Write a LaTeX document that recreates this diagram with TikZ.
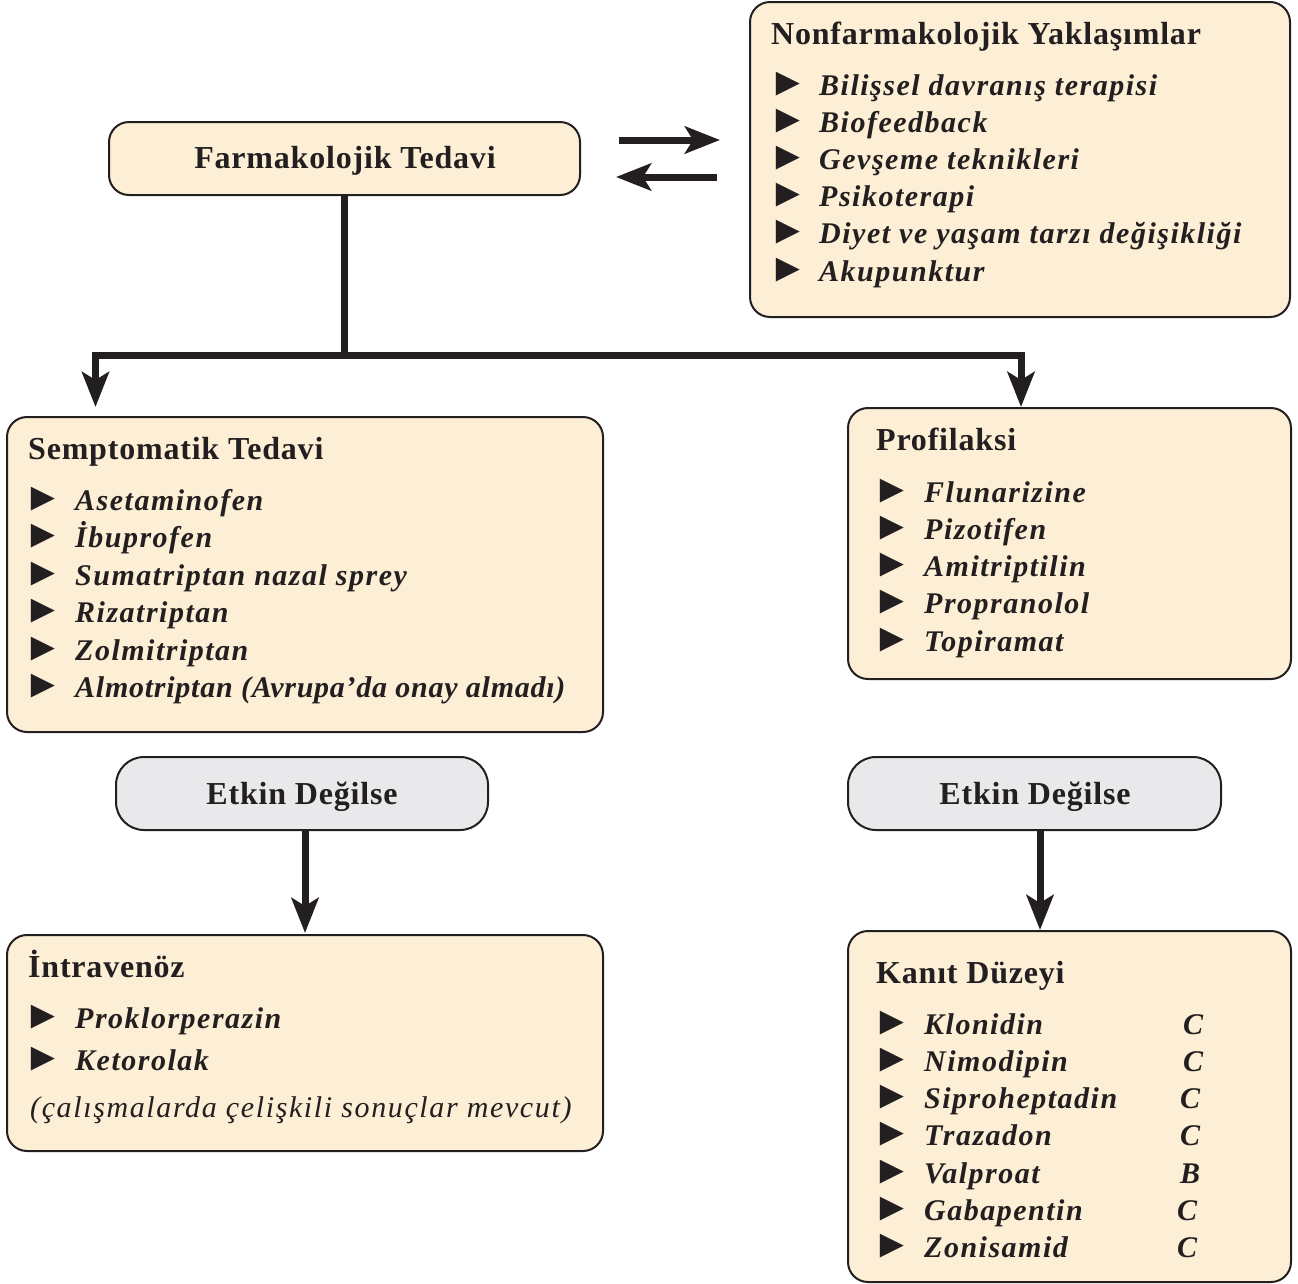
\documentclass[tikz,border=0pt]{standalone}
\usepackage{fontspec}
\setmainfont{Liberation Serif}
\newfontfamily\headfont{Liberation Serif}[LetterSpace=2.5]
\newfontfamily\listfont{Liberation Serif}[LetterSpace=5]
\newfontfamily\tightfont{Liberation Serif}[LetterSpace=2.5]
\newfontfamily\notefont{Liberation Serif}[LetterSpace=5.4]
\usetikzlibrary{arrows.meta}

\definecolor{ink}{HTML}{231F20}
\definecolor{cream}{HTML}{FDEFD6}
\definecolor{pale}{HTML}{E9E9EB}

\tikzset{
  panel/.style={draw=ink, line width=2pt, fill=cream, rounded corners=20pt, inner sep=0pt},
  gate/.style={draw=ink, line width=2pt, fill=pale, rounded corners=28pt, inner sep=0pt},
  headtext/.style={inner sep=0pt, text=ink, font=\headfont\bfseries\fontsize{32}{36}\selectfont},
  head/.style={headtext, anchor=base west},
  item/.style={anchor=base west, inner sep=0pt, text=ink, font=\listfont\bfseries\itshape\fontsize{30}{36}\selectfont},
  tightitem/.style={item, font=\tightfont\bfseries\itshape\fontsize{30}{36}\selectfont},
  note/.style={anchor=base west, inner sep=0pt, text=ink, font=\notefont\itshape\fontsize{30}{36}\selectfont},
  bul/.style={anchor=base west, inner sep=0pt, text=ink, font=\fontsize{40}{44}\selectfont},
  trunk/.style={draw=ink, line width=7pt},
  flow/.style={draw=ink, line width=7pt, -{Stealth[length=35pt,width=27pt,inset=8pt]}},
}

\begin{document}
\begin{tikzpicture}[x=1pt, y=-1pt]
\useasboundingbox (0,0) rectangle (1298,1283);

% ---------- boxes ----------
\node[panel, minimum width=471pt, minimum height=73pt] (farm) at (344.5,158.5) {};
\node[headtext] (farmtext) at (345,161) {Farmakolojik Tedavi};

\node[panel, minimum width=540pt, minimum height=315pt] (nonfarm) at (1020,159.5) {};
\node[panel, minimum width=596pt, minimum height=315pt] (semp) at (305,574.5) {};
\node[panel, minimum width=443pt, minimum height=271pt] (prof) at (1069.5,543.5) {};

\node[gate, minimum width=372pt, minimum height=73pt] (gl) at (302,793.5) {};
\node[headtext] (gltext) at (302,797) {Etkin Değilse};
\node[gate, minimum width=373pt, minimum height=73pt] (gr) at (1034.5,793.5) {};
\node[headtext] (grtext) at (1035,797) {Etkin Değilse};

\node[panel, minimum width=596pt, minimum height=216pt] (iv) at (305,1043) {};
\node[panel, minimum width=443pt, minimum height=351pt] (kanit) at (1069.5,1106.5) {};

% ---------- non-pharmacological list ----------
\node[head] (nonfarm-h) at (771,44) {Nonfarmakolojik Yaklaşımlar};
\foreach \t [count=\i] in {Bilişsel davranış terapisi, Biofeedback, Gevşeme teknikleri,
    Psikoterapi, Diyet ve yaşam tarzı değişikliği, Akupunktur}{
  \node[bul] (nonfarm-b\i) at (768,95+37.2*\i-37.2) {►};
  \node[item] (nonfarm-\i) at (819,95+37.2*\i-37.2) {\t};
}

% ---------- symptomatic treatment ----------
\node[head] (semp-h) at (28,459) {Semptomatik Tedavi};
\foreach \t [count=\i] in {Asetaminofen, İbuprofen, Sumatriptan nazal sprey,
    Rizatriptan, Zolmitriptan}{
  \node[bul] (semp-b\i) at (23,510+37.5*\i-37.5) {►};
  \node[item] (semp-\i) at (75,510+37.5*\i-37.5) {\t};
}
\node[bul] (semp-b6) at (23,697.5) {►};
\node[tightitem] (semp-6) at (75,697.5) {Almotriptan (Avrupa’da onay almadı)};

% ---------- prophylaxis ----------
\node[head] (prof-h) at (876,450) {Profilaksi};
\foreach \t [count=\i] in {Flunarizine, Pizotifen, Amitriptilin, Propranolol, Topiramat}{
  \node[bul] (prof-b\i) at (872,502+37.3*\i-37.3) {►};
  \node[item] (prof-\i) at (924,502+37.3*\i-37.3) {\t};
}

% ---------- intravenous ----------
\node[head] (iv-h) at (28,977) {İntravenöz};
\node[bul] (iv-b1) at (23,1028) {►};
\node[item] (iv-1) at (75,1028) {Proklorperazin};
\node[bul] (iv-b2) at (23,1070) {►};
\node[item] (iv-2) at (75,1070) {Ketorolak};
\node[note] (iv-n) at (30,1117) {(çalışmalarda çelişkili sonuçlar mevcut)};

% ---------- evidence level ----------
\node[head] (kanit-h) at (876,983) {Kanıt Düzeyi};
\foreach \t/\g/\gx [count=\i] in {Klonidin/C/1183, Nimodipin/C/1183, Siproheptadin/C/1180,
    Trazadon/C/1180, Valproat/B/1180, Gabapentin/C/1177, Zonisamid/C/1177}{
  \node[bul] (kanit-b\i) at (872,1034+37.3*\i-37.3) {►};
  \node[item] (kanit-\i) at (924,1034+37.3*\i-37.3) {\t};
  \node[item] (kanit-g\i) at (\gx,1034+37.3*\i-37.3) {\g};
}

% ---------- connectors ----------
\coordinate (fork) at (344.5,355.5);
\coordinate (ltip) at (95.5,407);
\coordinate (rtip) at (1021,407);
\draw[trunk] (farm.south) -- (fork);
\draw[flow] (fork) -| (ltip);
\draw[flow] (fork) -| (rtip);

\coordinate (toA) at (619,140);
\coordinate (toB) at (720,140);
\coordinate (backA) at (717,177);
\coordinate (backB) at (616,177);
\draw[flow] (toA) -- (toB);
\draw[flow] (backA) -- (backB);

\coordinate (ivtip) at (305,933);
\coordinate (kantip) at (1040,930);
\draw[flow] (gl.south -| ivtip) -- (ivtip);
\draw[flow] (gr.south -| kantip) -- (kantip);
\end{tikzpicture}
\end{document}
